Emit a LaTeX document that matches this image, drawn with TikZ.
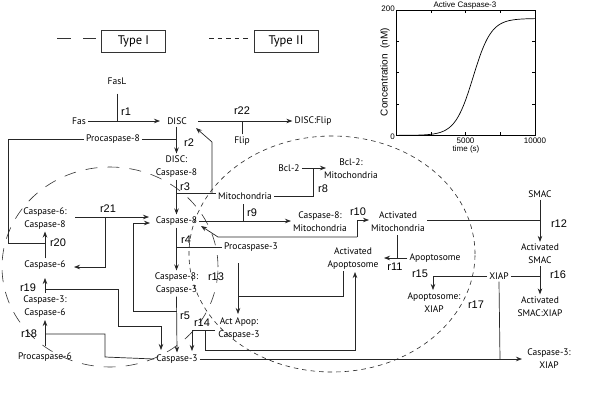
\documentclass[tikz,border=0pt]{standalone}
\usepackage{fontspec}
\newfontfamily\nfont{PT Sans}
\newfontfamily\afont{Liberation Sans}
\usetikzlibrary{arrows.meta}
\begin{document}
\begin{tikzpicture}[x=1pt,y=-1pt,
  lbl/.style={font=\nfont\fontsize{9.5}{13}\selectfont, align=center, inner sep=2pt},
  rl/.style={font=\afont\fontsize{11}{11}\selectfont, inner sep=0pt},
  plt/.style={font=\afont\fontsize{8}{8}\selectfont, inner sep=0pt},
  ln/.style={draw=black!85, line width=0.7pt},
  arr/.style={ln, -{Stealth[length=6pt,width=4.5pt]}},
  typeone/.style={draw=black!80, line width=0.6pt, dash pattern=on 12pt off 10pt},
  typetwo/.style={draw=black!85, line width=0.6pt, dash pattern=on 4.5pt off 4pt},
  legbox/.style={draw=black!80, line width=0.6pt, minimum width=64pt, minimum height=22pt, font=\nfont\fontsize{12.5}{12.5}\selectfont}
]
\useasboundingbox[fill=white] (0,0) rectangle (600,408);

% legend
\draw[typeone, dash pattern=on 14pt off 12pt] (57,38) -- (96,38);
\node[legbox] (t1) at (133.5,41) {Type I};
\draw[typetwo] (209,38) -- (248,38);
\node[legbox] (t2) at (286,41) {Type II};

% plot
\draw[line width=0.6pt] (396,10) rectangle (535,135);
\foreach \yy in {41.25,72.5,103.75}{\draw[line width=0.5pt] (396,\yy) -- (399,\yy); \draw[line width=0.5pt] (535,\yy) -- (532,\yy);}
\foreach \xx in {430.75,465.5,500.25}{\draw[line width=0.5pt] (\xx,135) -- (\xx,132); \draw[line width=0.5pt] (\xx,10) -- (\xx,13);}
\draw[line width=0.7pt] plot[domain=0:10000, samples=120, smooth] ({396+0.0139*\x}, {135-0.625*(187/(1+exp(-(\x-5550)/650))-0.6)});
\node[plt, anchor=east] (y200) at (395,9) {200};
\node[plt, anchor=east] (y0) at (395,137) {0};
\node[plt] (x5000) at (465.5,141) {5000};
\node[plt] (x10000) at (535,141) {10000};
\node[plt] (xlab) at (466,149) {time (s)};
\node[plt] (title) at (465,5) {Active Caspase-3};
\node[plt, font=\afont\fontsize{10}{10}\selectfont, rotate=90] (ylab) at (385,72) {Concentration\ \ (nM)};

% ellipses
\draw[typeone] (110,267) ellipse [x radius=108pt, y radius=100pt];
\draw[typetwo] (332,254) ellipse [x radius=143pt, y radius=118pt];

% species
\node[lbl] (fasl) at (117,81) {FasL};
\node[lbl] (fas) at (79,121) {Fas};
\node[lbl] (disc) at (177,121) {DISC};
\node[lbl] (discflip) at (313,121) {DISC:Flip};
\node[lbl] (flip) at (242,141) {Flip};
\node[lbl] (procasp8) at (113,139) {Procaspase-8};
\node[lbl] (disccasp8) at (176.5,166.5) {DISC:\\Caspase-8};
\node[lbl] (mito) at (245,196) {Mitochondria};
\node[lbl] (bcl2) at (289,168) {Bcl-2};
\node[lbl] (bcl2mito) at (351,169) {Bcl-2:\\Mitochondria};
\node[lbl] (casp8) at (176.5,221) {Caspase-8};
\node[lbl] (casp8mito) at (320,222) {Caspase-8:\\Mitochondria};
\node[lbl] (actmito) at (398,221.5) {Activated\\Mitochondria};
\node[lbl] (smac) at (540,194) {SMAC};
\node[lbl] (actsmac) at (540,254) {Activated\\SMAC};
\node[lbl] (apopt) at (435,258) {Apoptosome};
\node[lbl] (actapopt) at (353,258.5) {Activated\\Apoptosome};
\node[lbl] (xiap) at (499,276) {XIAP};
\node[lbl] (apoptxiap) at (434,303) {Apoptosome:\\XIAP};
\node[lbl] (actsmacxiap) at (540,306.5) {Activated\\SMAC:XIAP};
\node[lbl] (casp3xiap) at (549,358.5) {Caspase-3:\\XIAP};
\node[lbl] (procasp3) at (251,247) {Procaspase-3};
\node[lbl] (casp8casp3) at (176.5,283.5) {Caspase-8:\\Caspase-3};
\node[lbl] (actapopcasp3) at (239,329) {Act Apop:\\Caspase-3};
\node[lbl] (casp3) at (177,359) {Caspase-3};
\node[lbl] (casp6casp8) at (45,218.5) {Caspase-6:\\Caspase-8};
\node[lbl] (casp6) at (45,265) {Caspase-6};
\node[lbl] (casp3casp6) at (45,307) {Caspase-3:\\Caspase-6};
\node[lbl] (procasp6) at (45,357) {Procaspase-6};

% reaction labels
\node[rl] (lr1) at (126,112) {r1};
\node[rl] (lr2) at (189,143) {r2};
\node[rl] (lr3) at (185,187) {r3};
\node[rl] (lr4) at (186,240) {r4};
\node[rl] (lr5) at (185,316) {r5};
\node[rl] (lr8) at (323,189) {r8};
\node[rl] (lr9) at (252,213) {r9};
\node[rl] (lr10) at (358,212) {r10};
\node[rl] (lr11) at (395,267) {r11};
\node[rl] (lr12) at (559,224) {r12};
\node[rl] (lr13) at (216,277) {r13};
\node[rl] (lr14) at (202,323) {r14};
\node[rl] (lr15) at (420,274) {r15};
\node[rl] (lr16) at (558,275) {r16};
\node[rl] (lr17) at (476,305) {r17};
\node[rl] (lr18) at (29,334) {r18};
\node[rl] (lr19) at (28,288) {r19};
\node[rl] (lr20) at (58,243) {r20};
\node[rl] (lr21) at (108,209) {r21};
\node[rl] (lr22) at (242,111) {r22};

% r1
\draw[arr] (fas.east) -- (160,121);
\draw[ln, shorten <=7pt] (fasl.south) -- (fasl.south |- fas);
% r22
\draw[arr] (198,121) -- (discflip.west);
\draw[ln] (flip.north) -- (flip.north |- disc);
% procaspase-8
\draw[ln] (procasp8.east) -- (176.5,139);
\draw[ln] (procasp8.west) -- (8,139) -- (8,243) -- (45,243);
% r2
\draw[arr] (disc.south -| disccasp8) -- (disccasp8.north);
% r3
\draw[arr] (disccasp8.south) -- (casp8.north);
\draw[ln] (176.5,193) -- (mito.west |- 0,193);
\draw[arr] (212,193) -- (212,142) -- (196,128);
% r8
\draw[ln] (mito.east) -- (313,196) -- (313,168);
\draw[arr] (bcl2.east) -- (326,168);
% r9
\draw[ln] (243,204) -- (243,221);
\draw[arr] (casp8.east) -- (casp8mito.west |- casp8.east);
% r10
\draw[arr] (357,237) -- (357,220) -- (actmito.west |- 0,220);
\draw[arr] (357,237) -- (218,237) -- (201,226);
% r12
\draw[ln] (actmito.east |- 0,220) -- (540,220);
\draw[arr] (smac.south) -- (actsmac.north);
% r11
\draw[ln] (397,235) -- (397,258);
\draw[ln] (apopt.west) -- (397,258);
\draw[arr] (397,258) -- (384,258);
% r15
\draw[ln] (xiap.west) -- (433,276);
\draw[arr] (433,276) -- (433,290);
% r16
\draw[ln] (xiap.east) -- (540,276);
\draw[arr] (actsmac.south) -- (actsmacxiap.north);
% r17
\draw[ln] (xiap.south) -- (500,359);
% caspase-3 + XIAP
\draw[arr] (casp3.east) -- (522,359);
% r4
\draw[arr] (casp8.south) -- (casp8casp3.north);
\draw[ln] (176.5,247) -- (procasp3.west);
% r5
\draw[arr] (casp8casp3.south) -- (casp3.north);
\draw[arr] (176.5,311) -- (133,311) -- (133,223) -- (150,223);
% r13
\draw[arr] (238,263) -- (238,314);
\draw[ln] (238,296) -- (343,296) -- (343,271);
% r14
\draw[arr] (215,330) -- (192,330) -- (192,351);
\draw[arr] (205,330) -- (205,350) -- (355,350) -- (355,272);
% r21
\draw[arr] (75,217) -- (149,217);
\draw[arr] (105,217) -- (105,267) -- (74,267);
% r20
\draw[arr] (casp6.north) -- (casp6casp8.south);
% r19
\draw[arr] (45,293) -- (45,278);
\draw[ln] (45,289) -- (118,289) -- (118,326) -- (161,326);
\draw[arr] (161,326) -- (161,350);
% r18
\draw[arr] (45,346) -- (45,320);
\draw[ln] (45,334) -- (105,334) -- (105,357) -- (casp3.west);
\end{tikzpicture}
\end{document}
